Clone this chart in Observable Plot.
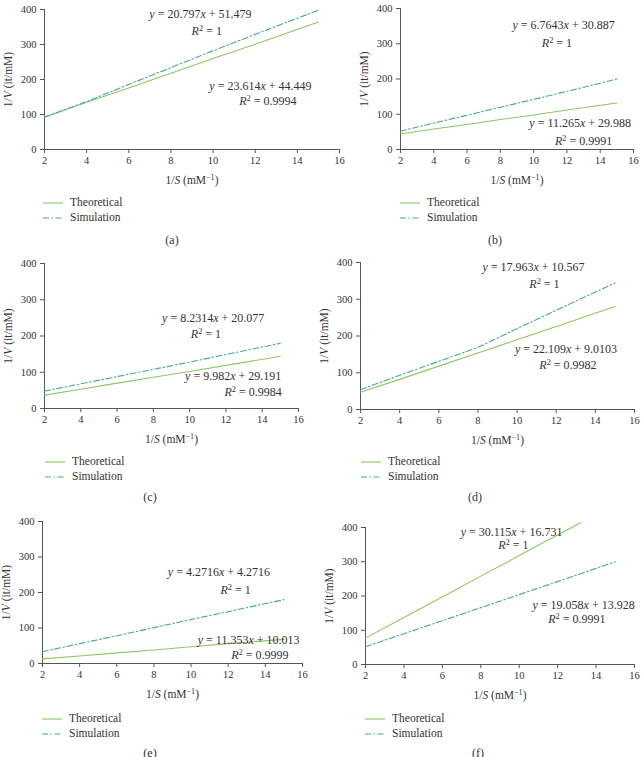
<!DOCTYPE html>
<html>
<head>
<meta charset="utf-8">
<script src="https://cdn.jsdelivr.net/npm/d3@7"></script>
<script src="https://cdn.jsdelivr.net/npm/@observablehq/plot@0.6"></script>
<style>
  body { margin: 0; background: #fff; }
  #fig { position: relative; width: 642px; height: 757px; overflow: hidden;
         font-family: "Liberation Serif", "DejaVu Serif", serif; color: #333; }
  .plot { position: absolute; overflow: visible; }
  .legend { position: absolute; font-size: 11.5px; line-height: 15px; }
  .legend .row { display: flex; align-items: center; height: 15px; }
  .legend svg { width: 20px; height: 6px; margin-right: 7px; }
  .caption { position: absolute; font-size: 12px; transform: translate(-50%, -50%); }
</style>
</head>
<body>
<div id="fig"></div>
<script>
// Lineweaver–Burk plots: 1/V against 1/S for six cases (a)–(f)
const panels = ["a", "b", "c", "d", "e", "f"];
const xTicks = [2, 4, 6, 8, 10, 12, 14, 16];
const yTicks = [0, 100, 200, 300, 400];

// 1/S sample positions
const sampleX = [2, 4, 6, 8, 10, 12, 15];
const sampleXTheoreticalF = [2, 4, 6, 8, 10, 12, 13.2];

// 1/V values, theoretical model
const theoreticalA = [93, 135, 176, 218, 260, 301, 364];
const theoreticalB = [44, 58, 71, 85, 98, 112, 132];
const theoreticalC = [37, 53, 70, 86, 102, 119, 144];
const theoreticalD = [47, 82, 118, 154, 190, 226, 280];
const theoreticalE = [13, 21, 30, 38, 47, 56, 68];
const theoreticalF = [77, 137, 197, 258, 318, 378, 414];

// 1/V values, simulation
const simulationA = [92, 137, 186, 234, 282, 329, 398];
const simulationB = [52, 75, 97, 120, 142, 165, 200];
const simulationC = [48, 68, 88, 108, 128, 149, 180];
const simulationD = [54, 93, 131, 169, 220, 270, 344];
const simulationE = [33, 56, 78, 101, 124, 146, 180];
const simulationF = [52, 90, 128, 166, 204, 242, 300];

// linear fits: y = slope·x + intercept
const slopeTheoretical = ["20.797", "6.7643", "8.2314", "17.963", "4.2716", "30.115"];
const interceptTheoretical = ["51.479", "30.887", "20.077", "10.567", "4.2716", "16.731"];
const r2Theoretical = ["1", "1", "1", "1", "1", "1"];
const slopeSimulation = ["23.614", "11.265", "9.982", "22.109", "11.353", "19.058"];
const interceptSimulation = ["44.449", "29.988", "29.191", "9.0103", "10.013", "13.928"];
const r2Simulation = ["0.9994", "0.9991", "0.9984", "0.9982", "0.9999", "0.9991"];

const seriesNames = ["Theoretical", "Simulation"];
const xLabel = "1/*S* (mM^−1^)";
const yLabel = "1/*V* (it/mM)";

// ---- layout (pixel frames, annotation anchors in data units) ----
const frames = {
  a: {left: 44, right: 339, top: 9, bottom: 149},
  b: {left: 400, right: 633, top: 8, bottom: 149},
  c: {left: 44, right: 298, top: 263, bottom: 408},
  d: {left: 360, right: 634, top: 262, bottom: 409},
  e: {left: 42, right: 302, top: 521, bottom: 663},
  f: {left: 365, right: 634, top: 527, bottom: 664}
};
// [eqX, eqY, r2X, r2Y] for the theoretical and simulation fits
const anchors = {
  a: {theo: [9.4, 386, 9.7, 337], sim: [12.25, 180, 12.6, 137]},
  b: {theo: [11.8, 352, 11.4, 301], sim: [12.8, 74, 13.0, 23]},
  c: {theo: [11.3, 250, 10.9, 206], sim: [12.4, 88, 13.5, 45]},
  d: {theo: [10.84, 387, 11.4, 342], sim: [12.5, 163, 12.6, 120]},
  e: {theo: [11.5, 257, 12.4, 206], sim: [13.1, 67, 13.7, 23]},
  f: {theo: [9.6, 386, 9.7, 349], sim: [13.35, 172, 13.0, 133]}
};
const legends = {
  a: {left: 43, top: 195}, b: {left: 400, top: 195},
  c: {left: 45, top: 454}, d: {left: 361, top: 454},
  e: {left: 42, top: 711}, f: {left: 365, top: 711}
};
const captions = {
  a: [172, 240], b: [495, 240], c: [150, 497], d: [475, 497], e: [150, 753], f: [478, 753]
};

const colorTheoretical = "#8fc763";
const colorSimulation = "#45a892";
const dashSimulation = "6,2.5,1.5,2.5";
const textColor = "#333";

const theoreticalSeries = [theoreticalA, theoreticalB, theoreticalC, theoreticalD, theoreticalE, theoreticalF];
const simulationSeries = [simulationA, simulationB, simulationC, simulationD, simulationE, simulationF];

// Turn light markup (*italic*, ^superscript^) into tspans
function richify(textEl) {
  const s = textEl.textContent;
  if (!/[*^]/.test(s)) return;
  const parts = s.split(/(\*[^*]+\*|\^[^^]+\^)/).filter(p => p.length);
  textEl.textContent = "";
  const ns = "http://www.w3.org/2000/svg";
  let pendingDown = 0;
  for (const p of parts) {
    const t = document.createElementNS(ns, "tspan");
    if (pendingDown) { t.setAttribute("dy", pendingDown); pendingDown = 0; }
    if (p.startsWith("*")) {
      t.textContent = p.slice(1, -1);
      t.setAttribute("font-style", "italic");
    } else if (p.startsWith("^")) {
      t.textContent = p.slice(1, -1);
      t.setAttribute("font-size", "0.7em");
      t.setAttribute("dy", "-4");
      pendingDown = 4;
    } else {
      t.textContent = p;
    }
    textEl.appendChild(t);
  }
}

const fig = document.getElementById("fig");

panels.forEach((id, i) => {
  const f = frames[id];
  const svgLeft = f.left < 320 ? 0 : 318;
  const mT = 9, mR = 14, mB = 42;
  const mL = f.left - svgLeft;
  const width = f.right - svgLeft + mR;
  const height = f.bottom - f.top + mT + mB;

  const xsTheo = id === "f" ? sampleXTheoreticalF : sampleX;
  const theo = xsTheo.map((x, k) => ({x, y: theoreticalSeries[i][k]}));
  const sim = sampleX.map((x, k) => ({x, y: simulationSeries[i][k]}));

  const a = anchors[id];
  const notes = [
    {x: a.theo[0], y: a.theo[1], text: `*y* = ${slopeTheoretical[i]}*x* + ${interceptTheoretical[i]}`},
    {x: a.theo[2], y: a.theo[3], text: `*R*^2^ = ${r2Theoretical[i]}`},
    {x: a.sim[0], y: a.sim[1], text: `*y* = ${slopeSimulation[i]}*x* + ${interceptSimulation[i]}`},
    {x: a.sim[2], y: a.sim[3], text: `*R*^2^ = ${r2Simulation[i]}`}
  ];

  const chart = Plot.plot({
    width, height,
    marginLeft: mL, marginRight: mR, marginTop: mT, marginBottom: mB,
    style: {fontFamily: '"Liberation Serif", "DejaVu Serif", serif', fontSize: "10.5px",
            color: textColor, background: "transparent", overflow: "visible"},
    x: {domain: [2, 16]},
    y: {domain: [0, 400]},
    marks: [
      Plot.axisX({ticks: xTicks, tickSize: 4, tickPadding: 3, stroke: "#555",
                  label: xLabel, labelAnchor: "center", labelOffset: 34, labelArrow: "none"}),
      Plot.axisY({ticks: yTicks, tickSize: 4, tickPadding: 4, stroke: "#555",
                  label: yLabel, labelAnchor: "center", labelOffset: 41, labelArrow: "none"}),
      Plot.ruleX([2], {stroke: "#555"}),
      Plot.ruleY([0], {stroke: "#555"}),
      Plot.line(theo, {x: "x", y: "y", stroke: colorTheoretical, strokeWidth: 1.1}),
      Plot.line(sim, {x: "x", y: "y", stroke: colorSimulation, strokeWidth: 1.1,
                      strokeDasharray: dashSimulation}),
      Plot.text(notes, {x: "x", y: "y", text: "text", fontSize: 12, fill: textColor})
    ]
  });

  chart.classList.add("plot");
  chart.style.left = svgLeft + "px";
  chart.style.top = (f.top - mT) + "px";
  d3.select(chart).selectAll('g[aria-label$="axis label"] text').attr("font-size", "11.5px");
  chart.querySelectorAll("text").forEach(richify);
  fig.appendChild(chart);

  // legend
  const lg = document.createElement("div");
  lg.className = "legend";
  lg.style.left = legends[id].left + "px";
  lg.style.top = legends[id].top + "px";
  lg.innerHTML = seriesNames.map((name, k) => `
    <div class="row"><svg viewBox="0 0 20 6"><line x1="0" x2="20" y1="3" y2="3"
      stroke="${k === 0 ? colorTheoretical : colorSimulation}" stroke-width="1.1"
      ${k === 1 ? `stroke-dasharray="${dashSimulation}"` : ""}/></svg><span>${name}</span></div>`).join("");
  fig.appendChild(lg);

  // panel caption
  const cap = document.createElement("div");
  cap.className = "caption";
  cap.style.left = captions[id][0] + "px";
  cap.style.top = captions[id][1] + "px";
  cap.textContent = `(${id})`;
  fig.appendChild(cap);
});
</script>
</body>
</html>
